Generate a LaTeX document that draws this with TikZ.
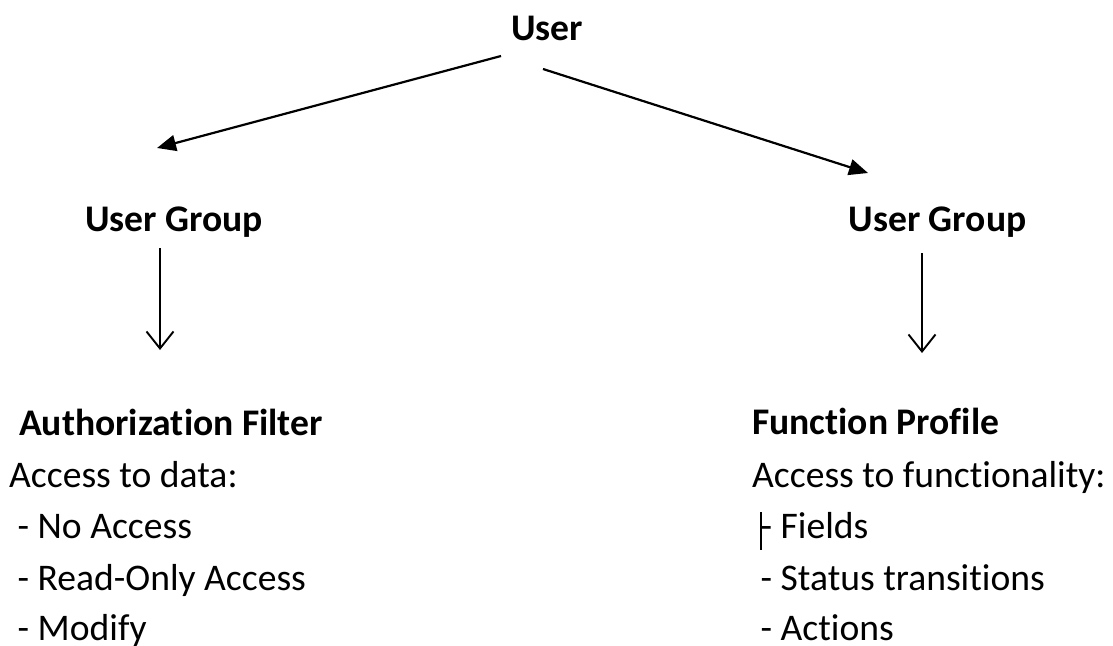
\documentclass[tikz,border=0pt]{standalone}
\usepackage{fontspec}
\setmainfont{Carlito}[Ligatures={NoCommon,NoContextual}]
\usetikzlibrary{arrows.meta}
\begin{document}
\begin{tikzpicture}[x=1pt,y=-1pt,
  txt/.style={inner sep=0pt,font=\fontsize{37.6}{45}\selectfont,text=black},
  bold/.style={txt,font=\fontsize{37.6}{45}\selectfont\bfseries},
  diag/.style={line width=2.2pt,-{Triangle[length=19pt,width=16pt]}},
  down/.style={line width=1.9pt,-{Straight Barb[length=17pt,width=27pt,line width=1.9pt]}}]
\useasboundingbox (0,0) rectangle (1113,645);
% titles
\node[bold,anchor=base] (user) at (547,40) {User};
\node[bold,anchor=base] (ugl) at (174,231) {User Group};
\node[bold,anchor=base] (ugr) at (937.5,231) {User Group};
% left block
\node[bold,anchor=base west] (af) at (19,435) {Authorization Filter};
\node[txt,anchor=base west] (afa) at (9,487) {Access to data:};
\node[txt,anchor=base west] (af1) at (17.5,538) {- No Access};
\node[txt,anchor=base west] (af2) at (17.5,590) {- Read-Only Access};
\node[txt,anchor=base west] (af3) at (17.5,640) {- Modify};
% right block
\node[bold,anchor=base west] (fp) at (752,434) {Function Profile};
\node[txt,anchor=base west] (fpa) at (752,487) {Access to functionality:};
\node[txt,anchor=base west] (fp1) at (760.5,538) {- Fields};
\node[txt,anchor=base west] (fp2) at (760.5,590) {- Status transitions};
\node[txt,anchor=base west] (fp3) at (760.5,640) {- Actions};
% text cursor bar
\draw[line width=1.3pt] ([shift={(0.5,-26)}]fp1.base west) -- ([shift={(0.5,12)}]fp1.base west);
% connectors
\draw[diag] ([shift={(-46,16)}]user.base) -- ([shift={(-17,-83)}]ugl.base);
\draw[diag] ([shift={(-4,29)}]user.base) -- ([shift={(-69.5,-58)}]ugr.base);
\draw[down] ([shift={(-14,17)}]ugl.base) -- ([shift={(141,-85)}]af.base west);
\draw[down] ([shift={(-15.5,22)}]ugr.base) -- ([shift={(170,-81)}]fp.base west);
\end{tikzpicture}
\end{document}
